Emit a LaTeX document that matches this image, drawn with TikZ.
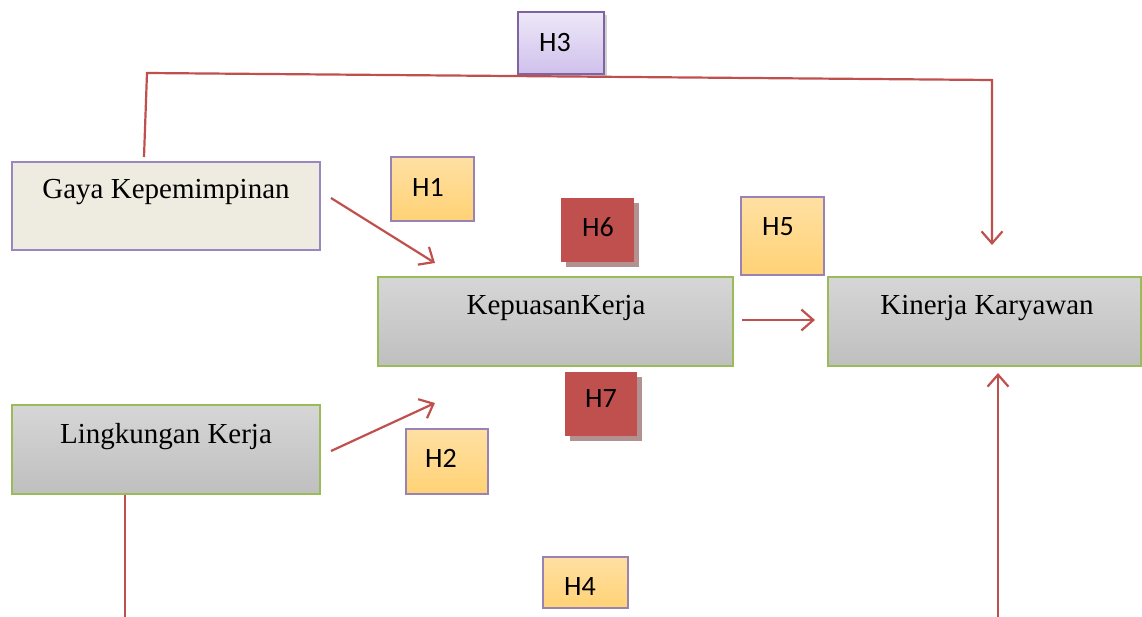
\documentclass[tikz,border=0pt]{standalone}
\usepackage{fontspec}
\setmainfont{Liberation Serif}
\newfontfamily\hfont{Carlito}
\usetikzlibrary{arrows.meta,calc}
\definecolor{lred}{HTML}{C0504D}
\definecolor{cream}{HTML}{EEECE1}
\definecolor{purb}{HTML}{9A87C0}
\definecolor{grtop}{HTML}{D6D6D6}
\definecolor{grbot}{HTML}{BFBFBF}
\definecolor{greenb}{HTML}{9BBB59}
\definecolor{ortop}{HTML}{FFE0A3}
\definecolor{orbot}{HTML}{FFD275}
\definecolor{pptop}{HTML}{EEE8F8}
\definecolor{ppbot}{HTML}{CFC0EC}
\definecolor{ppb}{HTML}{8064A2}
\definecolor{shad}{HTML}{B39191}
\tikzset{
  x=1pt,y=-1pt,
  bigbox/.style={draw=greenb,line width=1.2pt,top color=grtop,bottom color=grbot,inner sep=0pt},
  creambox/.style={draw=purb,line width=1.2pt,fill=cream,inner sep=0pt},
  bigtext/.style={font=\fontsize{29}{32}\selectfont,inner sep=0pt},
  hbox/.style={draw=ppb!80,line width=1.2pt,top color=ortop,bottom color=orbot,inner sep=0pt},
  h3box/.style={draw=ppb,line width=1.4pt,top color=pptop,bottom color=ppbot,inner sep=0pt},
  redbox/.style={fill=lred,inner sep=0pt},
  shadowbox/.style={fill=shad,inner sep=0pt},
  htext/.style={font=\hfont\fontsize{28}{30}\selectfont,inner sep=0pt},
  conn/.style={draw=lred,line width=2.2pt},
  arr/.style={conn,-{Straight Barb[length=12pt,width=21pt,line width=2.2pt]}}
}
\begin{document}
\begin{tikzpicture}
\useasboundingbox (0,0) rectangle (1142,616);
% main boxes
\node[creambox,minimum width=308pt,minimum height=88pt] (gaya) at (166,206) {};
\node[bigtext] (gayat) at (166,192) {Gaya Kepemimpinan};
\node[bigbox,minimum width=355pt,minimum height=89pt] (kep) at (555.5,321.5) {};
\node[bigtext] (kept) at (556,308) {KepuasanKerja};
\node[bigbox,minimum width=313pt,minimum height=89pt] (kin) at (984.5,321.5) {};
\node[bigtext] (kint) at (987,308) {Kinerja Karyawan};
\node[bigbox,minimum width=308pt,minimum height=89pt] (ling) at (166,449.5) {};
\node[bigtext] (lingt) at (166,437) {Lingkungan Kerja};
% H3
\node[fill=black!18,inner sep=0pt,minimum width=86pt,minimum height=62pt] (h3s) at (564,46) {};
\node[h3box,minimum width=86pt,minimum height=62pt] (h3) at (561,43) {};
\node[htext] (h3t) at (555,43) {H3};
% H1
\node[hbox,minimum width=83pt,minimum height=64pt] (h1) at (432.5,189) {};
\node[htext] (h1t) at (428,187) {H1};
% H6
\node[shadowbox,minimum width=73pt,minimum height=64pt] (h6s) at (602.5,235) {};
\node[redbox,minimum width=73pt,minimum height=64pt] (h6) at (597.5,230) {};
\node[htext] (h6t) at (598,227) {H6};
% H5
\node[hbox,minimum width=83pt,minimum height=78pt] (h5) at (782.5,236) {};
\node[htext] (h5t) at (778,227) {H5};
% H7
\node[shadowbox,minimum width=72pt,minimum height=64pt] (h7s) at (606,409) {};
\node[redbox,minimum width=72pt,minimum height=64pt] (h7) at (601,404) {};
\node[htext] (h7t) at (601,399) {H7};
% H2
\node[hbox,minimum width=82pt,minimum height=65pt] (h2) at (447,461.5) {};
\node[htext] (h2t) at (441,458) {H2};
% H4
\node[hbox,minimum width=85pt,minimum height=51pt] (h4) at (585.5,582.5) {};
\node[htext] (h4t) at (580,587) {H4};
% connectors
\coordinate (g1) at (331,198);
\coordinate (g2) at (435,263);
\coordinate (l1) at (331,451);
\coordinate (l2) at (435,403);
\coordinate (k1) at (742,320);
\coordinate (k2) at (815,320);
\coordinate (t0) at (144,157);
\coordinate (t1) at (147,73);
\coordinate (t2) at (992,80);
\coordinate (t3) at (992,245);
\coordinate (b0) at (125,495);
\coordinate (b1) at (125,620);
\coordinate (r0) at (998,620);
\coordinate (r1) at (998,373);
\draw[arr] (g1) -- (g2);
\draw[arr] (l1) -- (l2);
\draw[arr] (k1) -- (k2);
\draw[arr] (t0) -- (t1) -- (t2) -- (t3);
\draw[conn] (b0) -- (b1);
\draw[arr] (r0) -- (r1);
\end{tikzpicture}
\end{document}
